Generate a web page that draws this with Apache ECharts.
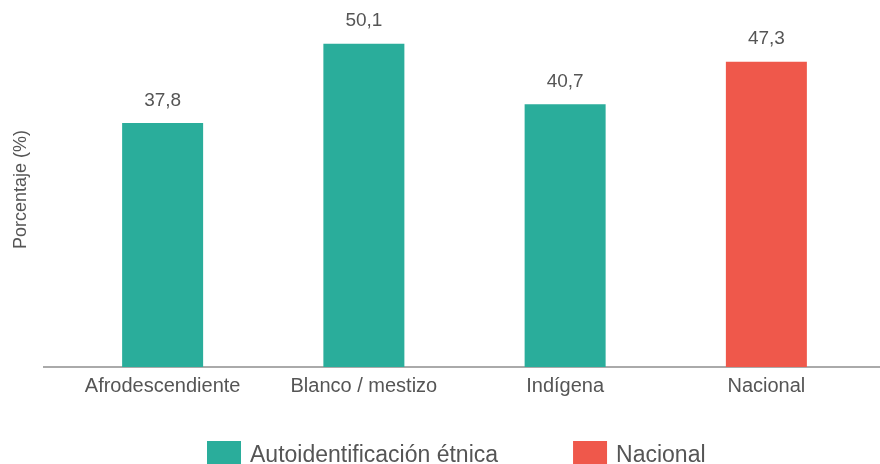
<!DOCTYPE html>
<html>
<head>
<meta charset="utf-8">
<script src="https://cdn.jsdelivr.net/npm/echarts@6/dist/echarts.min.js"></script>
<style>
  html, body {margin: 0; padding: 0; background: #fff;}
  #main {width: 880px; height: 464px;}
</style>
</head>
<body>
<div id="main"></div>
<script>
var categories = ['Afrodescendiente', 'Blanco / mestizo', 'Indígena', 'Nacional'];
var etnicaValues = [37.8, 50.1, 40.7, '-'];
var nacionalValues = ['-', '-', '-', 47.3];
var seriesNames = ['Autoidentificación étnica', 'Nacional'];

var font = 'Liberation Sans, Arial, sans-serif';
var labelStyle = {
  show: true,
  position: 'top',
  distance: 13,
  color: '#555',
  fontSize: 19,
  fontFamily: font,
  formatter: function (p) { return String(p.value).replace('.', ','); }
};

var chart = echarts.init(document.getElementById('main'));
chart.setOption({
  animation: false,
  textStyle: {fontFamily: font},
  legend: {
    data: seriesNames,
    top: 436,
    left: 202,
    itemWidth: 34,
    itemHeight: 30,
    itemGap: 75,
    icon: 'rect',
    textStyle: {color: '#555', fontSize: 23, fontFamily: font, padding: [0, 0, 0, 4]}
  },
  grid: {left: 62, right: 13, top: 12, bottom: 97},
  graphic: [{
    type: 'line',
    shape: {x1: 43, y1: 367, x2: 880, y2: 367},
    style: {stroke: '#aaa', lineWidth: 2},
    z: 1
  }],
  xAxis: {
    type: 'category',
    data: categories,
    axisLine: {lineStyle: {color: '#aaa', width: 2}},
    axisTick: {alignWithLabel: true, interval: 0, length: 5, lineStyle: {color: '#aaa'}},
    axisLabel: {interval: 0, color: '#555', fontSize: 20, margin: 9, fontFamily: font}
  },
  yAxis: {
    type: 'value',
    min: 0,
    max: 55,
    name: 'Porcentaje (%)',
    nameLocation: 'middle',
    nameGap: 32,
    nameTextStyle: {color: '#555', fontSize: 18, fontFamily: font},
    axisLine: {show: false},
    axisTick: {show: false},
    axisLabel: {show: false},
    splitLine: {show: false}
  },
  series: [
    {
      name: seriesNames[0],
      type: 'bar',
      stack: 'a',
      barWidth: 81,
      data: etnicaValues,
      itemStyle: {color: '#2aad9b'},
      label: labelStyle
    },
    {
      name: seriesNames[1],
      type: 'bar',
      stack: 'a',
      barWidth: 81,
      data: nacionalValues,
      itemStyle: {color: '#ef584b'},
      label: labelStyle
    }
  ]
});
</script>
</body>
</html>
